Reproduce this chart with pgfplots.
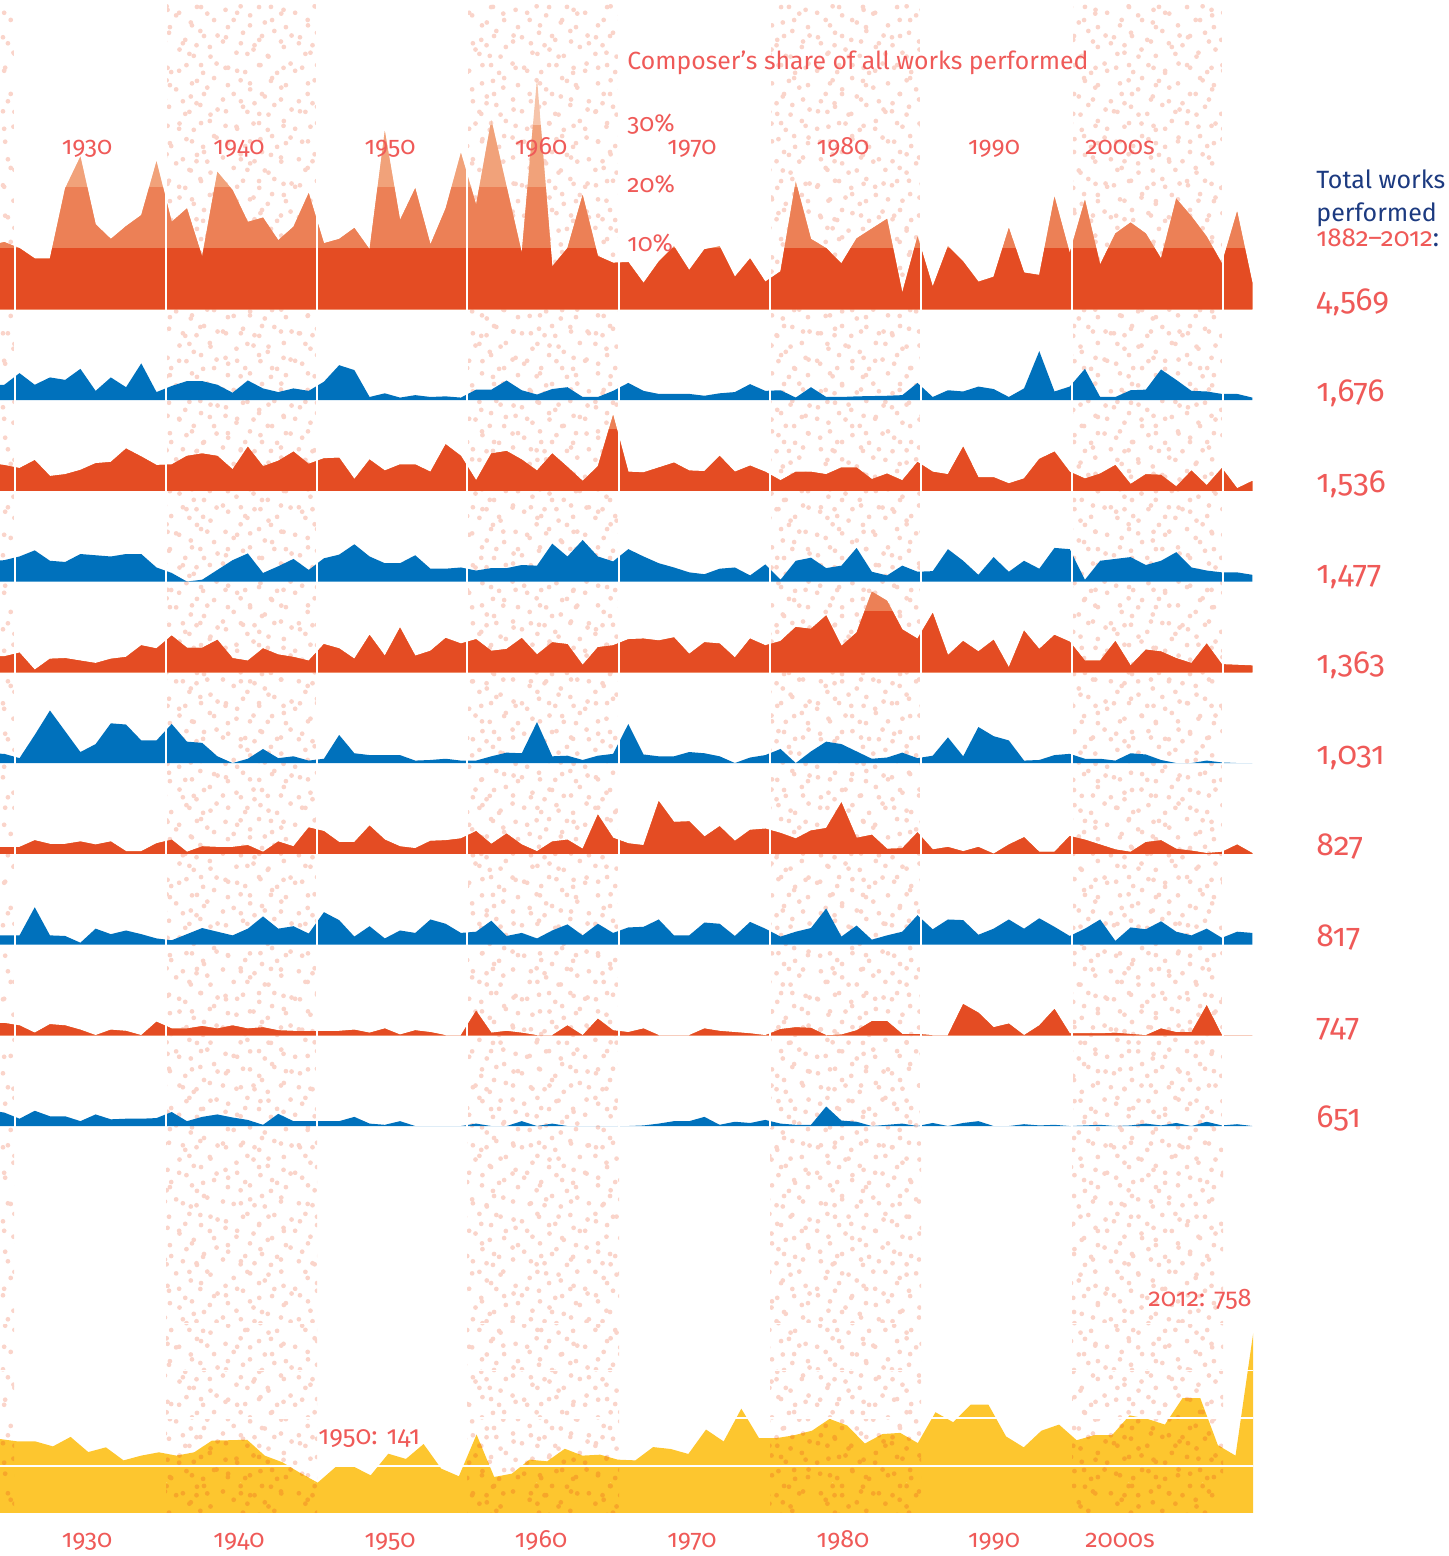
\documentclass[border=0pt]{standalone}
\usepackage{fontspec}
\setmainfont{Fira Sans}[Numbers=OldStyle]
\usepackage{pgfplots}
\pgfplotsset{compat=1.18}
\usepackage{pgfplotstable}
\usetikzlibrary{patterns}

\definecolor{dark}{RGB}{228,76,35}
\definecolor{med}{RGB}{236,128,86}
\definecolor{light}{RGB}{241,162,122}
\definecolor{lightest}{RGB}{246,196,170}
\definecolor{blu}{RGB}{0,113,188}
\definecolor{yel}{RGB}{253,198,47}
\definecolor{dotpink}{RGB}{250,212,202}
\definecolor{dotorange}{RGB}{247,166,42}
\definecolor{coral}{RGB}{239,90,88}
\definecolor{navy}{RGB}{28,58,128}

\pgfdeclarepatternformonly{stippleA}{\pgfqpoint{0pt}{0pt}}{\pgfqpoint{37pt}{37pt}}{\pgfqpoint{37pt}{37pt}}{%
\pgfpathcircle{\pgfqpoint{3.1pt}{4.2pt}}{1.2pt}
\pgfpathcircle{\pgfqpoint{11.7pt}{2.0pt}}{1.2pt}
\pgfpathcircle{\pgfqpoint{19.4pt}{5.5pt}}{1.2pt}
\pgfpathcircle{\pgfqpoint{27.8pt}{1.6pt}}{1.2pt}
\pgfpathcircle{\pgfqpoint{34.6pt}{6.3pt}}{1.2pt}
\pgfpathcircle{\pgfqpoint{7.3pt}{11.8pt}}{1.2pt}
\pgfpathcircle{\pgfqpoint{15.9pt}{13.4pt}}{1.2pt}
\pgfpathcircle{\pgfqpoint{23.1pt}{10.2pt}}{1.2pt}
\pgfpathcircle{\pgfqpoint{31.2pt}{14.7pt}}{1.2pt}
\pgfpathcircle{\pgfqpoint{2.0pt}{19.6pt}}{1.2pt}
\pgfpathcircle{\pgfqpoint{10.6pt}{21.9pt}}{1.2pt}
\pgfpathcircle{\pgfqpoint{18.8pt}{18.3pt}}{1.2pt}
\pgfpathcircle{\pgfqpoint{26.4pt}{22.8pt}}{1.2pt}
\pgfpathcircle{\pgfqpoint{35.1pt}{20.5pt}}{1.2pt}
\pgfpathcircle{\pgfqpoint{5.9pt}{28.4pt}}{1.2pt}
\pgfpathcircle{\pgfqpoint{14.2pt}{30.7pt}}{1.2pt}
\pgfpathcircle{\pgfqpoint{21.6pt}{27.1pt}}{1.2pt}
\pgfpathcircle{\pgfqpoint{29.9pt}{31.6pt}}{1.2pt}
\pgfpathcircle{\pgfqpoint{9.4pt}{35.3pt}}{1.2pt}
\pgfpathcircle{\pgfqpoint{24.7pt}{35.0pt}}{1.2pt}
\pgfusepath{fill}}

\pgfdeclarepatternformonly{stippleB}{\pgfqpoint{0pt}{0pt}}{\pgfqpoint{29pt}{29pt}}{\pgfqpoint{29pt}{29pt}}{%
\pgfpathcircle{\pgfqpoint{4.5pt}{2.4pt}}{1.2pt}
\pgfpathcircle{\pgfqpoint{15.2pt}{6.1pt}}{1.2pt}
\pgfpathcircle{\pgfqpoint{24.8pt}{3.3pt}}{1.2pt}
\pgfpathcircle{\pgfqpoint{9.1pt}{11.5pt}}{1.2pt}
\pgfpathcircle{\pgfqpoint{20.3pt}{14.2pt}}{1.2pt}
\pgfpathcircle{\pgfqpoint{2.6pt}{17.9pt}}{1.2pt}
\pgfpathcircle{\pgfqpoint{13.7pt}{20.8pt}}{1.2pt}
\pgfpathcircle{\pgfqpoint{26.1pt}{19.4pt}}{1.2pt}
\pgfpathcircle{\pgfqpoint{7.8pt}{26.5pt}}{1.2pt}
\pgfpathcircle{\pgfqpoint{18.5pt}{25.1pt}}{1.2pt}
\pgfpathcircle{\pgfqpoint{27.3pt}{10.6pt}}{1.2pt}
\pgfpathcircle{\pgfqpoint{11.4pt}{1.4pt}}{1.2pt}
\pgfusepath{fill}}

% composer's share of works performed per season, in %
\pgfplotstableread{
year r1 r2 r3 r4 r5 r6 r7 r8 r9 r10
1929 10.4 2.4 4.5 3.3 2.6 1.6 1.1 1.5 2.0 2.6
1930 11.0 2.5 4.2 3.5 2.6 1.5 1.1 1.5 2.0 2.2
1931 10.0 4.4 3.7 4.1 3.2 0.8 1.1 1.5 1.6 1.2
1932 8.3 2.5 5.0 5.1 0.4 4.6 2.2 6.1 0.4 2.5
1933 8.3 3.7 2.4 3.4 2.2 8.6 1.6 1.5 1.8 1.6
1934 19.8 3.3 2.7 3.2 2.3 5.2 1.6 1.4 1.6 1.6
1935 25.0 5.1 3.4 4.5 1.9 1.8 2.0 0.3 0.9 0.8
1936 13.9 1.5 4.5 4.3 1.5 3.1 1.5 2.6 0.0 1.9
1937 11.5 3.7 4.7 4.1 2.2 6.5 2.0 1.7 0.9 1.1
1938 13.6 2.1 6.9 4.5 2.5 6.3 0.4 2.3 0.7 1.2
1939 15.4 6.0 5.6 4.5 4.4 3.7 0.4 1.7 0.0 1.2
1940 24.2 1.3 4.2 2.3 3.9 3.7 1.7 1.0 2.2 1.3
1941 14.3 2.3 4.3 1.4 6.0 6.4 2.3 0.7 1.1 2.3
1942 16.5 3.1 5.7 0.0 4.0 3.5 0.3 1.7 1.1 0.8
1943 8.6 3.1 6.1 0.3 4.0 3.3 1.2 2.7 1.5 1.5
1944 22.5 2.5 5.7 1.9 5.3 1.1 1.1 2.1 1.1 1.9
1945 19.5 1.2 3.5 3.5 2.3 0.0 1.1 1.5 1.6 1.4
1946 14.3 3.2 7.2 4.6 1.9 0.7 1.4 2.6 1.1 1.0
1947 15.0 1.9 4.0 1.4 3.9 2.3 0.3 4.6 1.3 0.2
1948 11.3 1.3 4.9 2.5 2.9 0.8 2.0 2.6 0.8 2.0
1949 13.5 1.9 6.4 3.7 2.5 1.1 1.2 3.0 0.7 0.8
1950 19.0 1.5 4.4 1.9 1.9 0.4 4.3 1.8 0.7 0.8
1951 10.8 3.0 5.3 3.8 4.6 0.7 3.7 5.3 0.7 0.8
1952 11.5 5.7 5.4 4.4 3.9 4.6 1.9 4.0 0.7 0.8
1953 13.3 4.9 1.9 6.1 2.2 1.6 1.9 1.3 0.9 1.5
1954 9.8 0.5 5.1 4.1 6.1 1.3 4.6 3.0 0.4 0.4
1955 29.2 1.1 3.3 3.0 2.7 1.3 2.3 1.0 1.1 0.2
1956 14.6 0.4 4.3 3.0 7.3 1.3 1.2 2.3 0.1 0.8
1957 19.8 0.8 4.3 4.3 2.7 0.4 0.9 1.9 0.8 0.0
1958 10.6 0.5 3.1 2.1 3.5 0.5 2.1 4.1 0.5 0.0
1959 16.5 0.6 7.6 2.1 5.6 0.7 2.2 3.4 0.0 0.0
1960 25.6 0.4 5.7 2.3 4.7 0.4 2.5 1.9 0.0 0.0
1961 17.1 1.7 1.7 1.8 5.4 0.4 3.7 2.1 4.0 0.4
1962 31.0 1.7 6.1 2.2 3.5 1.1 1.6 3.9 0.4 0.0
1963 20.1 3.2 6.5 2.2 3.8 1.7 3.3 1.4 0.7 0.0
1964 9.2 1.6 5.1 2.7 5.6 1.6 1.5 1.9 0.4 0.8
1965 37.8 0.9 3.3 2.6 2.9 6.7 0.4 1.0 0.0 0.0
1966 7.0 1.8 6.1 6.2 4.9 1.1 2.0 2.3 0.0 0.4
1967 10.0 2.1 3.9 4.1 4.6 1.2 2.3 3.3 1.6 0.0
1968 18.7 0.5 1.6 6.8 1.2 0.5 0.8 1.5 0.0 0.0
1969 8.7 0.5 4.0 4.1 4.1 1.2 6.4 3.4 2.7 0.0
1970 7.6 1.5 12.4 3.3 4.4 1.5 2.6 1.9 0.8 0.0
1971 7.7 2.8 3.1 5.3 5.4 6.4 1.7 2.8 0.5 0.0
1972 4.3 1.5 3.0 4.1 5.5 1.4 1.4 2.9 1.1 0.1
1973 7.8 1.0 3.8 3.0 5.2 1.1 8.6 4.1 0.0 0.4
1974 10.3 1.0 4.6 2.3 5.7 1.1 5.2 1.5 0.0 0.8
1975 6.4 1.0 3.3 1.5 3.0 1.8 5.3 1.5 0.0 0.8
1976 9.8 0.7 3.2 1.2 4.9 1.6 2.8 3.6 1.1 1.5
1977 10.3 1.1 5.7 2.1 4.7 1.1 4.5 3.4 0.7 0.2
1978 5.3 1.3 3.1 2.3 2.4 0.0 2.1 1.4 0.5 0.7
1979 8.3 2.6 4.1 1.0 5.5 0.9 3.9 3.7 0.3 0.5
1980 4.5 1.5 3.1 2.8 4.4 1.3 4.1 2.6 0.0 1.0
1981 6.2 1.6 1.7 0.3 5.1 2.3 3.4 1.3 1.0 0.4
1982 20.9 0.4 3.1 3.4 7.4 0.0 2.5 2.1 1.3 0.2
1983 11.5 2.1 3.1 3.9 7.1 1.9 3.8 2.7 1.2 0.2
1984 10.0 0.5 2.7 2.2 9.3 3.5 4.2 5.9 0.0 3.2
1985 7.5 0.5 3.8 2.6 4.3 3.1 8.4 1.3 0.1 0.9
1986 11.6 0.6 3.8 5.5 6.5 1.9 2.6 3.1 0.8 0.7
1987 13.2 0.65 1.9 1.6 13.2 0.7 3.1 0.8 2.3 0.0
1988 14.8 0.7 2.8 1.0 11.7 0.9 0.8 1.5 2.3 0.2
1989 2.7 0.8 1.7 2.6 7.0 1.7 0.9 2.1 0.2 0.4
1990 11.9 2.8 4.7 1.6 5.5 0.8 3.5 4.8 0.2 0.0
1991 3.7 0.5 3.1 1.7 9.7 1.2 0.7 2.5 0.0 0.5
1992 10.3 1.6 2.7 5.3 2.8 4.2 1.1 4.1 0.0 0.0
1993 7.8 1.4 7.2 3.4 5.1 1.1 0.4 4.0 5.1 0.5
1994 4.5 2.2 2.2 1.1 3.4 5.9 1.1 1.6 3.7 0.8
1995 5.3 1.8 2.2 4.0 5.3 4.4 0.0 2.6 1.3 0.0
1996 13.3 0.5 1.2 1.6 0.8 3.7 1.5 4.1 1.9 0.0
1997 6.0 1.9 2.0 3.4 6.8 0.4 2.7 2.6 0.0 0.3
1998 5.6 8.0 5.2 2.1 3.8 0.5 0.3 4.3 1.6 0.1
1999 18.4 1.4 6.4 5.5 6.1 1.3 0.3 2.9 4.3 0.2
2000 9.2 2.2 3.1 5.3 5.0 1.5 2.9 1.4 0.3 0.0
2001 17.9 5.1 2.0 0.3 1.9 0.7 2.3 2.6 0.3 0.1
2002 7.3 0.5 2.8 3.4 1.9 0.7 1.5 4.1 0.3 0.2
2003 12.4 0.5 4.2 3.7 5.1 0.4 0.7 0.6 0.4 0.0
2004 14.2 1.6 1.1 4.0 1.1 1.6 0.3 2.8 0.2 0.1
2005 12.4 1.7 2.7 2.7 3.7 1.4 1.9 2.5 0.0 0.4
2006 8.3 5.0 2.6 3.4 3.4 0.5 2.2 3.8 1.1 0.1
2007 18.1 3.3 0.7 4.8 2.3 0.0 0.8 2.1 0.5 0.5
2008 15.2 1.5 3.3 2.3 1.5 0.0 0.5 1.5 0.5 0.0
2009 11.9 1.4 0.9 1.8 4.7 0.4 0.1 2.6 4.9 0.7
2010 7.5 1.0 3.7 1.5 1.3 0.1 0.3 1.1 0.0 0.1
2011 16.0 1.0 0.4 1.5 1.2 0.0 1.5 2.1 0.0 0.3
2012 4.3 0.4 1.6 1.1 1.1 0.0 0.1 1.9 0.0 0.0
}\rows

% total works performed (series shown at the bottom)
\pgfplotstableread{
k w
0 312
1 302
2 302
3 281
4 321
5 257
6 277
7 222
8 242
9 256
10 242
11 256
12 305
13 307
14 309
15 242
16 214
17 169
18 128
19 193
20 197
21 159
22 250
23 228
24 291
25 187
26 155
27 331
28 152
29 166
30 225
31 218
32 271
33 242
34 246
35 225
36 222
37 278
38 270
39 249
40 352
41 302
42 440
43 316
44 316
45 328
46 347
47 397
48 369
49 293
50 333
51 338
52 295
53 425
54 383
55 457
56 457
57 323
58 277
59 347
60 373
61 307
62 328
63 328
64 412
65 397
66 373
67 485
68 485
69 286
70 242
71 758
}\works

\pgfplotsset{
  base/.style={scale only axis, width=724.5pt, hide axis, anchor=south west,
    enlargelimits=false, clip=true},
  rowax/.style={base, xmin=1929.7175, xmax=2024.9215},
  pxax/.style={base, at={(0pt,0pt)}, height=778pt, xmin=0, xmax=1449, ymin=0, ymax=1556},
}

% one clipped layer of an orange row: #1 baseline (pt), #2 clip top (%), #3 height (pt), #4 column, #5 colour
\newcommand\capax[5]{%
  \begin{axis}[rowax, at={(0pt,#1pt)}, height=#3pt, ymin=0, ymax=#2]
    \addplot[fill=#5, draw=none] table[x=year, y=#4] {\rows} \closedcycle;
  \end{axis}}
\newcommand\orangerow[2]{%
  \capax{#1}{40}{122.2}{#2}{lightest}%
  \capax{#1}{30}{91.65}{#2}{light}%
  \capax{#1}{20}{61.1}{#2}{med}%
  \capax{#1}{10}{30.55}{#2}{dark}}
\newcommand\bluerow[2]{%
  \begin{axis}[rowax, at={(0pt,#1pt)}, height=122.2pt, ymin=0, ymax=40]
    \addplot[fill=blu, draw=none] table[x=year, y=#2] {\rows} \closedcycle;
  \end{axis}}
\newcommand\ydots[4]{%
  \begin{axis}[base, at={(#1pt,21.5pt)}, width=#2pt, height=94.83pt,
      xmin=#3, xmax=#4, ymin=0, ymax=800]
    \addplot[pattern=stippleA, pattern color=dotorange, draw=none]
      table[x=k, y=w] {\works} \closedcycle;
    \addplot[pattern=stippleB, pattern color=dotorange, draw=none]
      table[x=k, y=w] {\works} \closedcycle;
  \end{axis}}

\newcommand\fs[1]{\fontsize{#1pt}{#1pt}\selectfont}
\newcommand\sep[1]{\draw[white, line width=1.2pt] (axis cs:#1,428) -- (axis cs:#1,1556);}
\newcommand\dec[2]{%
  \node[anchor=base, inner sep=0, text=coral, font=\fs{12.5}] at (axis cs:#1,1401) {#2};
  \node[anchor=base, inner sep=0, text=coral, font=\fs{12.5}] at (axis cs:#1,9) {#2};}
\newcommand\tot[2]{\node[anchor=base west, inner sep=0, text=coral, font=\fs{16}] at (axis cs:1316,#1) {#2};}
\newcommand\band[2]{%
  \fill[pattern=stippleA, pattern color=dotpink] (axis cs:#1,43) rectangle (axis cs:#2,1551);
  \fill[pattern=stippleB, pattern color=dotpink] (axis cs:#1,43) rectangle (axis cs:#2,1551);}

\begin{document}
\begin{tikzpicture}
\useasboundingbox (0,0) rectangle (724.5pt,778pt);

% stippled decade bands
\begin{axis}[pxax]
  \band{0}{14}\band{166}{317}\band{467}{619}\band{770}{921}\band{1072}{1223}
\end{axis}

% composer rows
\orangerow{623.35}{r1}
\bluerow{577.975}{r2}
\orangerow{532.6}{r3}
\bluerow{487.225}{r4}
\orangerow{441.85}{r5}
\bluerow{396.475}{r6}
\orangerow{351.1}{r7}
\bluerow{305.725}{r8}
\orangerow{260.35}{r9}
\bluerow{214.975}{r10}

% total works performed
\begin{axis}[base, at={(0pt,21.5pt)}, height=94.83pt, xmin=0, xmax=82.096, ymin=0, ymax=800]
  \addplot[fill=yel, draw=none] table[x=k, y=w] {\works} \closedcycle;
\end{axis}
\ydots{0}{7}{0}{0.7932}
\ydots{83}{75.5}{9.4051}{17.9603}
\ydots{233.5}{76}{26.4589}{35.0708}
\ydots{385}{75.5}{43.6261}{52.1813}
\ydots{536}{75.5}{60.7365}{69.2918}

% overlay: separators, grid lines, labels
\begin{axis}[pxax, clip=false]
  \sep{15}\sep{166}\sep{317}\sep{467}\sep{619}\sep{770}\sep{921}\sep{1072}\sep{1223}
  \draw[white, line width=1pt] (axis cs:0,90.4) -- (axis cs:1253,90.4);
  \draw[white, line width=1pt] (axis cs:0,137.8) -- (axis cs:1253,137.8);
  \draw[white, line width=0.6pt] (axis cs:0,185.2) -- (axis cs:1253,185.2);
  \draw[white, line width=0.6pt] (axis cs:0,232.7) -- (axis cs:1253,232.7);

  \dec{87}{1930}\dec{239}{1940}\dec{390}{1950}\dec{541}{1960}
  \dec{692}{1970}\dec{843}{1980}\dec{994}{1990}\dec{1120}{2000s}

  \node[anchor=base west, inner sep=0, text=coral, font=\fs{12.4}] at (axis cs:627,1486) {Composer’s share of all works performed};
  \node[anchor=base west, inner sep=0, text=coral, font=\fs{12.3}] at (axis cs:627,1424) {30\%};
  \node[anchor=base west, inner sep=0, text=coral, font=\fs{12.3}] at (axis cs:627,1363) {20\%};
  \node[anchor=base west, inner sep=0, text=coral, font=\fs{12.3}] at (axis cs:627,1304) {10\%};

  \node[anchor=base west, inner sep=0, text=navy, font=\fs{12.5}] at (axis cs:1316,1367) {Total works};
  \node[anchor=base west, inner sep=0, text=navy, font=\fs{12.5}] at (axis cs:1316,1334) {performed};
  \node[anchor=base west, inner sep=0, font=\fs{13}] at (axis cs:1316,1309) {\textcolor{coral}{1882–2012}\textcolor{navy}{:}};

  \tot{1245}{4,569}\tot{1154}{1,676}\tot{1063}{1,536}\tot{972}{1,477}\tot{882}{1,363}
  \tot{791}{1,031}\tot{700}{827}\tot{609}{817}\tot{519}{747}\tot{428}{651}

  \node[anchor=base west, inner sep=0, text=coral, font=\fs{13}] at (axis cs:318,112) {1950: 141};
  \node[anchor=base east, inner sep=0, text=coral, font=\fs{12.7}] at (axis cs:1252,249) {2012: 758};
\end{axis}
\end{tikzpicture}
\end{document}
